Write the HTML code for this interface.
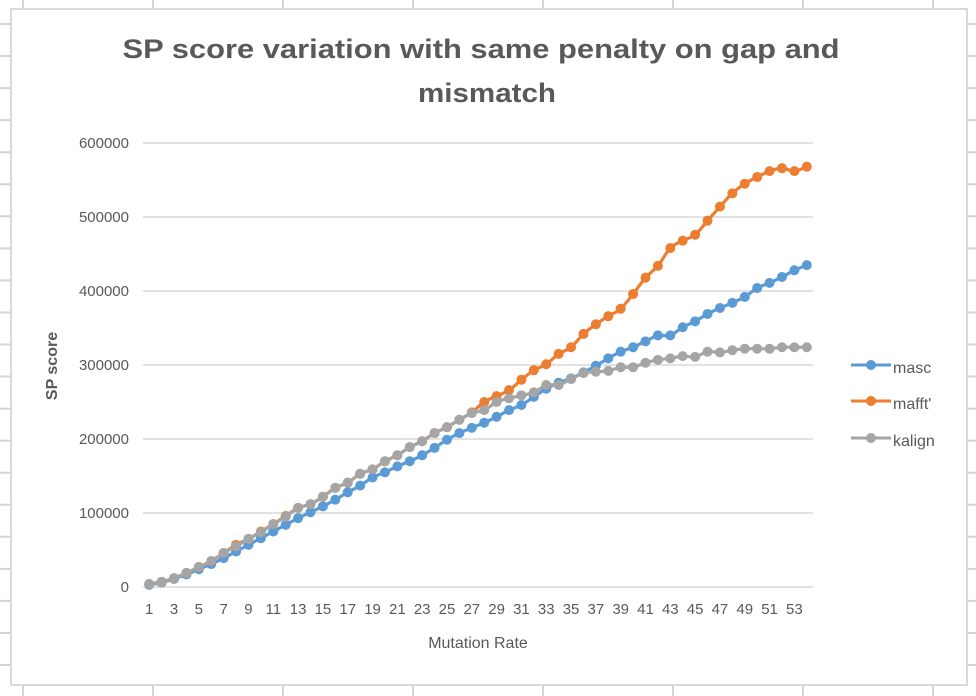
<!DOCTYPE html>
<html><head><meta charset="utf-8"><style>
html,body{margin:0;padding:0;background:#fff;}
svg{display:block;font-family:"Liberation Sans",sans-serif;}
</style></head><body>
<svg id="chart" width="976" height="696" viewBox="0 0 976 696" xmlns="http://www.w3.org/2000/svg">
<g id="sheet"></g>
<rect x="11" y="9" width="956" height="676" fill="#fff" stroke="#d9d9d9" stroke-width="2"/>
<text x="481" y="58" text-anchor="middle" font-size="27" font-weight="bold" fill="#595959" textLength="717" lengthAdjust="spacingAndGlyphs">SP score variation with same penalty on gap and</text>
<text x="487" y="102" text-anchor="middle" font-size="27" font-weight="bold" fill="#595959" textLength="138" lengthAdjust="spacingAndGlyphs">mismatch</text>
<g id="grid"></g>
<g id="xticks"></g>
<g id="yticks"></g>
<g id="series"></g>
<text x="478" y="648" text-anchor="middle" font-size="16" fill="#595959">Mutation Rate</text>
<text transform="translate(57,366) rotate(-90)" text-anchor="middle" font-size="16" font-weight="bold" fill="#595959">SP score</text>
<g id="legend"></g>
</svg>
<script>
const seriesNames = ["masc", "mafft'", "kalign"];
const seriesColors = ["#5B9BD5", "#ED7D31", "#A5A5A5"];
const masc = [3000,6000,11000,17000,24000,31000,39000,48000,57000,66000,75000,84000,93000,101000,109000,118000,128000,137000,148000,155000,163000,170000,178000,188000,199000,208000,
215000,222000,230000,239000,246000,257000,268000,276000,282000,290000,299000,309000,318000,324000,332000,340000,340000,351000,359000,369000,377000,384000,392000,404000,411000,419000,428000,435000];
const mafft = [4000,7000,12000,19000,27000,35000,46000,57000,65000,75000,85000,96000,107000,112000,122000,134000,141000,153000,159000,170000,178000,189000,197000,208000,216000,226000,
236000,250000,258000,266000,280000,293000,301000,315000,324000,342000,355000,366000,376000,396000,418000,434000,458000,468000,476000,495000,514000,532000,545000,554000,562000,566000,562000,568000];
const kalign = [4000,7000,12000,19000,27000,35000,46000,55000,65000,74000,85000,95000,107000,112000,122000,134000,141000,153000,159000,170000,178000,189000,197000,208000,216000,226000,
235000,239000,250000,255000,259000,263000,273000,273000,281000,289000,291000,292000,297000,297000,303000,307000,309000,312000,311000,318000,317000,320000,322000,322000,322000,324000,324000,324000];
const yTicks = [0,100000,200000,300000,400000,500000,600000];
const xLabels = [1,3,5,7,9,11,13,15,17,19,21,23,25,27,29,31,33,35,37,39,41,43,45,47,49,51,53];

const NS = "http://www.w3.org/2000/svg";
const PL = 143, PR = 813, PT = 143, PB = 587, N = masc.length;
const yMax = 600000;
function xPos(i){ return PL + (i + 0.5) * (PR - PL) / N; }
function yPos(v){ return PB - v / yMax * (PB - PT); }
function mk(tag, attrs, parent){ const e = document.createElementNS(NS, tag); for (const k in attrs) e.setAttribute(k, attrs[k]); parent.appendChild(e); return e; }

const sheet = document.getElementById('sheet');
for (let x = 23; x < 976; x += 130) {
  const l = mk('line', {x1:x, y1:0, x2:x, y2:696, stroke:'#d4d4d4', 'stroke-width':2}, sheet);
  
  
}
for (let y = 24; y < 696; y += 32.05) {
  const l = mk('line', {x1:0, y1:y, x2:976, y2:y, stroke:'#d4d4d4', 'stroke-width':2}, sheet);
  
  
}

const grid = document.getElementById('grid');
const yt = document.getElementById('yticks');
yTicks.forEach(v => {
  const g = mk('line', {x1:PL, y1:yPos(v), x2:PR, y2:yPos(v), stroke:'#d9d9d9', 'stroke-width':1.5}, grid);
  
  
  const t = mk('text', {x:129, y:yPos(v)+5, 'text-anchor':'end', 'font-size':15, fill:'#595959'}, yt);
  t.textContent = String(v);
  
  
});
const xt = document.getElementById('xticks');
xLabels.forEach(c => {
  const t = mk('text', {x:xPos(c-1), y:614, 'text-anchor':'middle', 'font-size':15, fill:'#595959'}, xt);
  t.textContent = String(c);
  
  
});

function smoothPath(pts){
  let d = 'M' + pts[0][0] + ',' + pts[0][1];
  for (let i = 0; i < pts.length - 1; i++) {
    const p0 = pts[i-1] || pts[i], p1 = pts[i], p2 = pts[i+1], p3 = pts[i+2] || p2;
    const t = 1/6;
    d += ' C' + (p1[0]+(p2[0]-p0[0])*t) + ',' + (p1[1]+(p2[1]-p0[1])*t) + ' ' + (p2[0]-(p3[0]-p1[0])*t) + ',' + (p2[1]-(p3[1]-p1[1])*t) + ' ' + p2[0] + ',' + p2[1];
  }
  return d;
}
const ser = document.getElementById('series');
const allData = [masc, mafft, kalign];
allData.forEach((arr, s) => {
  const g = mk('g', {}, ser);
  
  
  const pts = arr.map((v, i) => [xPos(i), yPos(v)]);
  const p = mk('path', {d:smoothPath(pts), fill:'none', stroke:seriesColors[s], 'stroke-width':3.2, 'stroke-linejoin':'round', 'stroke-linecap':'round'}, g);
  
  
  arr.forEach((v, i) => {
    const c = mk('circle', {cx:xPos(i), cy:yPos(v), r:5, fill:seriesColors[s]}, g);
    
    
  });
});

const leg = document.getElementById('legend');
const legY = [365, 401, 438];
seriesNames.forEach((n, s) => {
  const g = mk('g', {}, leg);
  
  
  mk('line', {x1:851, y1:legY[s], x2:891, y2:legY[s], stroke:seriesColors[s], 'stroke-width':3}, g);
  mk('circle', {cx:871, cy:legY[s], r:5, fill:seriesColors[s]}, g);
  const t = mk('text', {x:893, y:legY[s]+8, 'font-size':16, fill:'#595959'}, g);
  t.textContent = n;
});
</script>
</body></html>
